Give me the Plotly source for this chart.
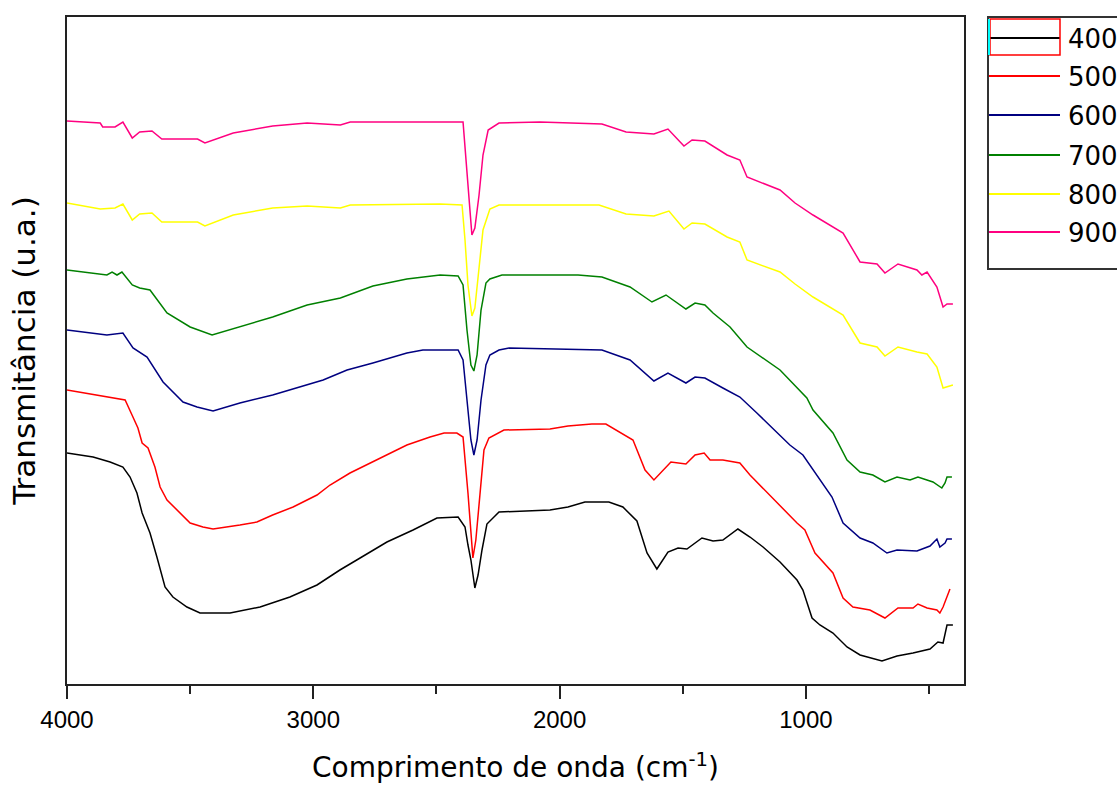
import plotly.graph_objects as go

# ---------------- data (wavenumber cm^-1, transmittance a.u.) ----------------
wn_900 = [4000, 3865, 3855, 3805, 3773, 3735, 3705, 3655, 3615, 3470, 3440, 3325, 3165, 3025, 2890,
          2850, 2392, 2380, 2368, 2356, 2344, 2327, 2311, 2290, 2246, 2080, 1828, 1730, 1617, 1560,
          1495, 1462, 1410, 1320, 1268, 1239, 1105, 1044, 971, 849, 780, 711, 679, 626, 549, 529,
          508, 468, 443, 427, 403]
t_900 = [56.3, 56.1, 55.7, 55.7, 56.2, 54.6, 55.2, 55.3, 54.5, 54.5, 54.1, 55.1, 55.8, 56.1, 55.9,
         56.2, 56.2, 52.4, 47.9, 44.9, 45.6, 48.9, 52.9, 55.4, 56.1, 56.2, 56.0, 55.2, 55.0, 55.5,
         53.8, 54.4, 54.3, 52.9, 52.4, 50.7, 49.4, 48.1, 46.9, 45.1, 42.2, 42.0, 41.1, 42.0, 41.4, 40.9,
         41.2, 39.7, 37.7, 38.0, 38.0]

wn_800 = [4000, 3865, 3805, 3773, 3735, 3705, 3655, 3615, 3470, 3440, 3325, 3165, 3025, 2890, 2850,
          2485, 2396, 2384, 2372, 2356, 2344, 2327, 2311, 2283, 2246, 1840, 1730, 1617, 1556, 1495,
          1462, 1410, 1320, 1268, 1239, 1105, 1044, 971, 849, 780, 711, 679, 626, 549, 508, 468,
          443, 403]
t_800 = [48.1, 47.5, 47.6, 48.0, 46.4, 47.0, 47.1, 46.2, 46.2, 45.8, 46.9, 47.6, 47.8, 47.6, 47.9,
         48.0, 47.9, 44.4, 39.9, 36.8, 37.6, 41.4, 45.4, 47.5, 47.9, 47.9, 47.0, 46.8, 47.3, 45.5,
         46.1, 46.0, 44.7, 44.2, 42.4, 41.2, 40.0, 38.7, 36.9, 34.1, 33.7, 32.8, 33.7, 33.2, 33.0, 31.7,
         29.6, 29.9]

wn_700 = [4000, 3878, 3838, 3817, 3797, 3777, 3735, 3705, 3663, 3594, 3500, 3411, 3298, 3165, 3025,
          2890, 2758, 2620, 2485, 2412, 2392, 2376, 2360, 2348, 2335, 2319, 2299, 2283, 2234, 1925,
          1828, 1714, 1625, 1568, 1487, 1450, 1410, 1377, 1308, 1239, 1105, 996, 971, 890, 833, 780,
          728, 679, 630, 577, 545, 484, 448, 435, 427, 407]
t_700 = [41.4, 41.0, 40.9, 41.2, 40.9, 41.2, 39.9, 39.6, 39.4, 37.1, 35.7, 34.9, 35.7, 36.7, 37.9,
         38.6, 39.8, 40.5, 40.9, 40.8, 39.9, 35.4, 31.9, 31.3, 32.9, 37.4, 40.1, 40.5, 40.9, 40.9,
         40.7, 39.7, 38.2, 38.9, 37.5, 38.1, 37.9, 37.1, 35.7, 33.7, 31.4, 28.6, 27.4, 25.1, 22.4, 21.2,
         20.9, 20.2, 20.7, 20.4, 20.7, 20.2, 19.6, 20.1, 20.7, 20.7]

wn_600 = [4000, 3894, 3838, 3773, 3732, 3675, 3622, 3610, 3529, 3472, 3407, 3298, 3165, 3025, 2960,
          2863, 2758, 2620, 2555, 2412, 2392, 2376, 2360, 2348, 2335, 2319, 2299, 2283, 2246, 2205,
          1828, 1714, 1617, 1560, 1487, 1450, 1410, 1337, 1268, 1199, 1117, 1065, 1012, 971, 894,
          849, 780, 728, 671, 630, 549, 496, 468, 456, 435, 427, 407]
t_600 = [35.4, 35.1, 34.9, 35.1, 33.6, 32.7, 30.7, 30.2, 28.2, 27.7, 27.3, 28.1, 28.9, 29.9, 30.4,
         31.4, 32.1, 33.1, 33.4, 33.4, 32.4, 28.4, 24.4, 22.9, 24.4, 28.4, 31.9, 32.9, 33.4, 33.6,
         33.4, 32.4, 30.3, 31.1, 30.1, 30.7, 30.6, 29.6, 28.7, 27.1, 25.2, 23.9, 22.9, 21.4, 18.7,
         16.1, 14.6, 14.1, 13.1, 13.4, 13.3, 13.8, 14.5, 13.7, 14.1, 14.5, 14.5]

wn_500 = [4000, 3907, 3797, 3764, 3736, 3712, 3695, 3671, 3643, 3622, 3594, 3553, 3500, 3448, 3407,
          3298, 3229, 3165, 3082, 2985, 2932, 2851, 2758, 2620, 2526, 2469, 2417, 2392, 2372, 2352,
          2340, 2323, 2307, 2287, 2226, 2039, 1966, 1869, 1812, 1702, 1653, 1617, 1576, 1548, 1487,
          1450, 1413, 1389, 1337, 1268, 1227, 1117, 1036, 1004, 963, 890, 849, 809, 740, 679, 626,
          565, 545, 508, 468, 456, 443, 415]
t_500 = [29.4, 29.0, 28.6, 28.4, 26.9, 25.6, 24.1, 23.6, 21.7, 19.7, 18.4, 17.4, 16.1, 15.7, 15.5,
         15.9, 16.2, 16.9, 17.7, 18.9, 19.9, 21.1, 22.2, 23.9, 24.7, 25.1, 25.1, 24.7, 19.1, 12.6,
         14.4, 19.4, 23.4, 24.6, 25.4, 25.5, 25.8, 26.0, 26.0, 24.4, 21.4, 20.4, 21.5, 22.2, 22.0,
         22.9, 23.1, 22.4, 22.4, 22.1, 20.9, 18.1, 16.1, 15.4, 13.1, 11.1, 8.6, 7.7, 7.4, 6.6, 7.6,
         7.6, 8.0, 7.6, 7.4, 7.1, 7.7, 9.5]

wn_400 = [4000, 3894, 3825, 3773, 3744, 3716, 3695, 3663, 3635, 3602, 3570, 3513, 3460, 3338, 3216,
          3095, 2985, 2892, 2810, 2701, 2595, 2498, 2412, 2384, 2372, 2360, 2344, 2331, 2315, 2295,
          2246, 2136, 2039, 1966, 1897, 1800, 1743, 1686, 1645, 1605, 1560, 1519, 1483, 1422, 1377,
          1337, 1276, 1227, 1174, 1105, 1036, 1012, 975, 943, 890, 833, 780, 691, 630, 565, 496,
          464, 443, 427, 403]
t_400 = [23.1, 22.7, 22.2, 21.7, 20.7, 19.1, 17.1, 15.1, 12.7, 9.7, 8.7, 7.7, 7.1, 7.1, 7.7,
         8.7, 9.9, 11.4, 12.6, 14.2, 15.4, 16.6, 16.7, 15.7, 13.9, 12.4, 9.6, 10.9, 13.4, 16.0,
         17.2, 17.3, 17.4, 17.7, 18.2, 18.2, 17.7, 16.3, 13.1, 11.5, 13.2, 13.6, 13.5, 14.6, 14.3,
         14.4, 15.5, 14.7, 13.7, 12.2, 10.4, 9.4, 6.6, 5.9, 5.1, 3.7, 2.9, 2.3, 2.8, 3.1, 3.5,
         4.2, 4.1, 5.9, 5.9]

series_names = ["400", "500", "600", "700", "800", "900"]
series_x = [wn_400, wn_500, wn_600, wn_700, wn_800, wn_900]
series_y = [t_400, t_500, t_600, t_700, t_800, t_900]
series_colors = ["#000000", "#FF0000", "#000080", "#008000", "#FFFF00", "#FF0080"]

x_tick_vals = [4000, 3000, 2000, 1000]
x_tick_text = ["4000", "3000", "2000", "1000"]
x_minor_vals = [3500, 2500, 1500, 500]

# ---------------- figure ----------------
FONT = "Liberation Sans, Arial, sans-serif"
WIDE = "DejaVu Sans, Liberation Sans, sans-serif"
W, H = 1117, 790
L, R, T, B = 67, 153, 17, 106
PW, PH = W - L - R, H - T - B

fig = go.Figure()
for name, xs, ys, col in zip(series_names, series_x, series_y, series_colors):
    fig.add_trace(go.Scatter(x=xs, y=ys, mode="lines", name=name,
                             line=dict(color=col, width=1.5), showlegend=False))


def px(xp):
    return (xp - L) / PW


def py(yp):
    return (H - B - yp) / PH


shapes = []
annotations = []
# legend box (extends beyond the right edge, as in the reference)
shapes.append(dict(type="rect", xref="paper", yref="paper", x0=px(988), x1=px(1140),
                   y0=py(269), y1=py(17), line=dict(color="#333333", width=2),
                   fillcolor="rgba(0,0,0,0)", layer="above"))
legend_y = [38, 76, 115, 155, 194, 232]
for name, col, ly in zip(series_names, series_colors, legend_y):
    shapes.append(dict(type="line", xref="paper", yref="paper", x0=px(989), x1=px(1060),
                       y0=py(ly), y1=py(ly), line=dict(color=col, width=2)))
    annotations.append(dict(xref="paper", yref="paper", x=px(1066), y=py(ly + 1), text=name,
                            showarrow=False, xanchor="left", yanchor="middle",
                            font=dict(family=WIDE, size=26, color="black")))
# selection marks around the first legend entry
shapes.append(dict(type="rect", xref="paper", yref="paper", x0=px(990), x1=px(1060),
                   y0=py(55), y1=py(19), line=dict(color="#FF0000", width=1.5)))
shapes.append(dict(type="line", xref="paper", yref="paper", x0=px(989), x1=px(989),
                   y0=py(55), y1=py(19), line=dict(color="#00FFFF", width=2)))

fig.update_layout(
    width=W, height=H,
    margin=dict(l=L, r=R, t=T, b=B, autoexpand=False),
    paper_bgcolor="white", plot_bgcolor="white",
    font=dict(family=FONT, size=24, color="black"),
    shapes=shapes, annotations=annotations,
    xaxis=dict(range=[4000, 358], tickmode="array", tickvals=x_tick_vals, ticktext=x_tick_text,
               ticks="outside", ticklen=13, tickwidth=1.5, tickcolor="#222222",
               minor=dict(tickmode="array", tickvals=x_minor_vals, ticks="outside",
                          ticklen=8, tickwidth=1.5, tickcolor="#222222"),
               showline=True, linecolor="#222222", linewidth=2, mirror=True,
               showgrid=False, zeroline=False,
               tickfont=dict(family=FONT, size=24),
               title=dict(text="Comprimento de onda (cm<sup>-1</sup>)",
                          font=dict(family=WIDE, size=28), standoff=26)),
    yaxis=dict(range=[0, 66.7], showticklabels=False, ticks="",
               showline=True, linecolor="#222222", linewidth=2, mirror=True,
               showgrid=False, zeroline=False,
               title=dict(text="Transmitância (u.a.)",
                          font=dict(family=WIDE, size=31), standoff=20)),
)

fig.write_html("out.html")
